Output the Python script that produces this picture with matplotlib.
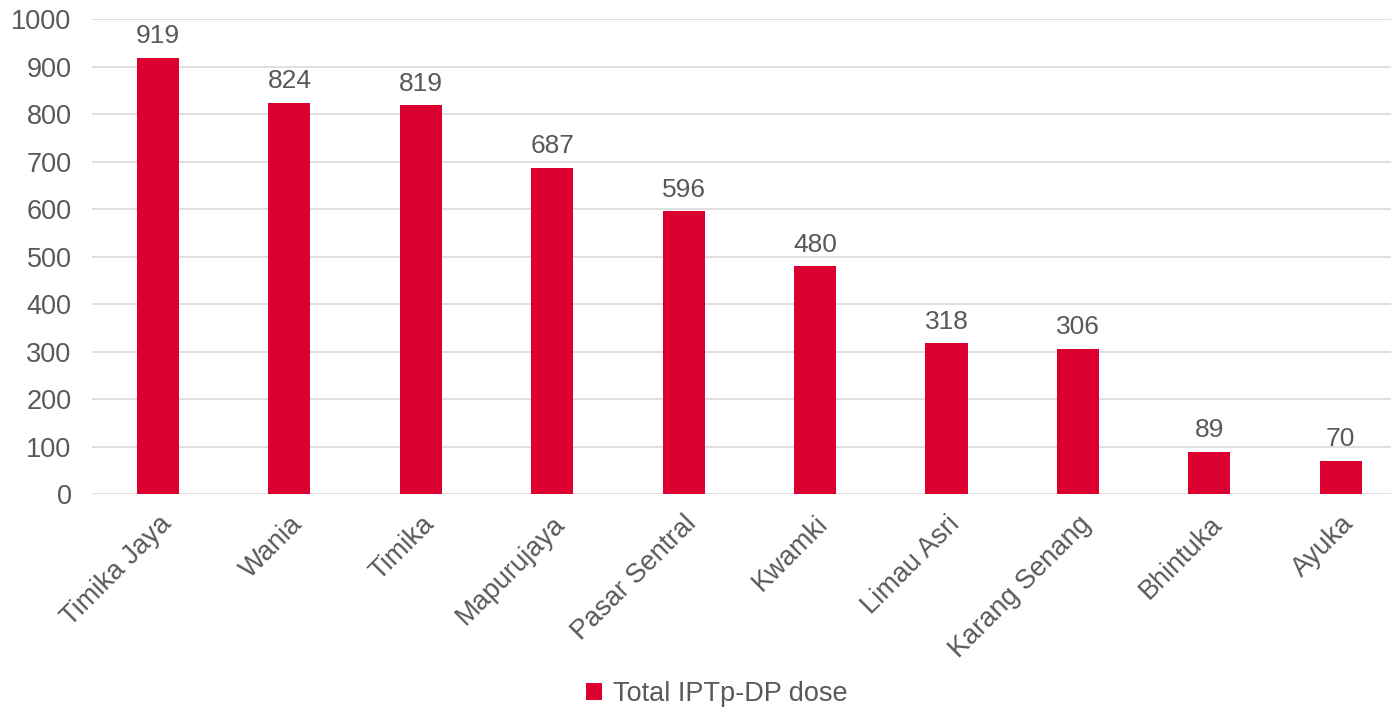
import matplotlib
matplotlib.use("Agg")
import matplotlib.pyplot as plt

categories = ["Timika Jaya", "Wania", "Timika", "Mapurujaya", "Pasar Sentral",
              "Kwamki", "Limau Asri", "Karang Senang", "Bhintuka", "Ayuka"]
values = [919, 824, 819, 687, 596, 480, 318, 306, 89, 70]
series_name = "Total IPTp-DP dose"
yticks = [0, 100, 200, 300, 400, 500, 600, 700, 800, 900, 1000]

plt.rcParams['font.family'] = ['Liberation Sans', 'DejaVu Sans']
text_color = "#595959"
bar_color = "#DC0030"

fig = plt.figure(figsize=(13.91, 7.09), dpi=100)
ax = fig.add_axes([0.0664, 0.303, 0.9447, 0.670])

x = list(range(len(categories)))
bars = ax.bar(x, values, width=0.32, color=bar_color, label=series_name, zorder=3)
for xi, v in zip(x, values):
    ax.text(xi, v + 20, str(v), ha="center", va="bottom", fontsize=19, color=text_color)

ax.set_xlim(-0.5, len(categories) - 0.5)
ax.set_ylim(0, 1000)
ax.set_yticks(yticks)
ax.set_yticklabels([str(t) for t in yticks], fontsize=19.5, color=text_color)
ax.set_xticks(x)
ax.set_xticklabels(categories, rotation=45, ha="right", rotation_mode="anchor",
                   fontsize=19.5, color=text_color)
ax.tick_params(axis="both", length=0)
ax.tick_params(axis="y", pad=15)
ax.tick_params(axis="x", pad=12)
ax.grid(axis="y", color="#d9d9d9", linewidth=1.2, zorder=0)
for s in ax.spines.values():
    s.set_visible(False)

fig.legend(handles=[bars], labels=[series_name], loc="center", bbox_to_anchor=(0.515, 0.021),
           frameon=False, fontsize=19.5, labelcolor=text_color, handlelength=0.6,
           handleheight=0.6, handletextpad=0.4)

fig.savefig("out.png", dpi=100)
